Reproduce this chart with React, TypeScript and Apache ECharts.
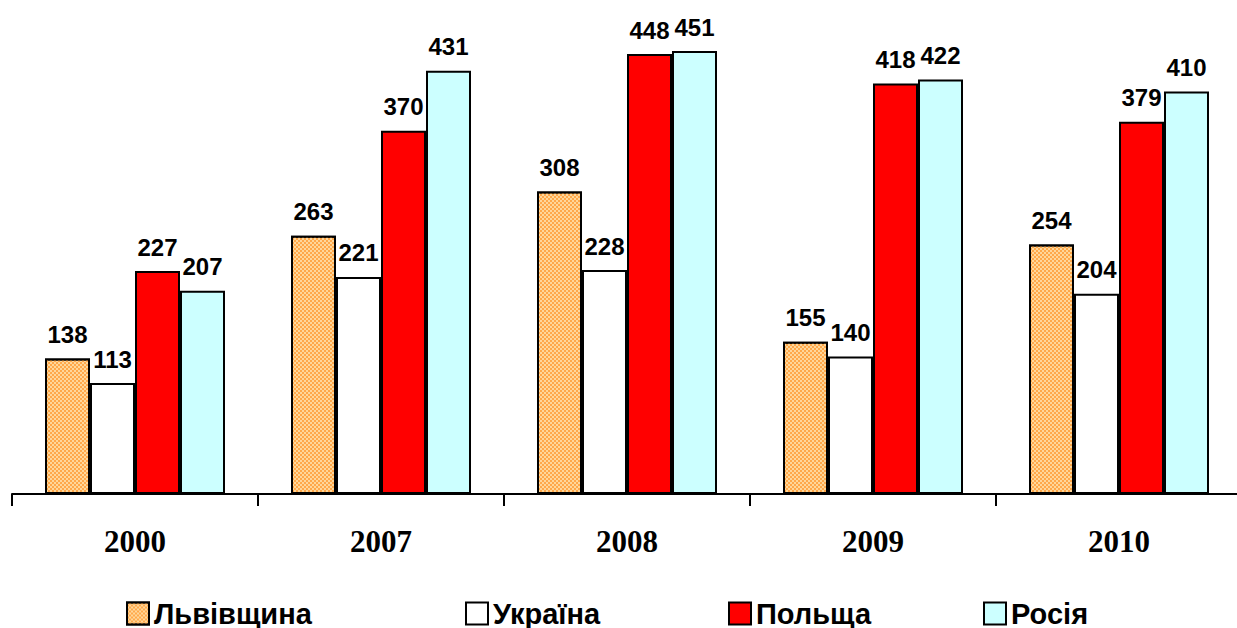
import React, { useEffect, useRef } from "react";
import * as echarts from "echarts";

const categories = ["2000", "2007", "2008", "2009", "2010"];
const seriesNames = ["Львівщина", "Україна", "Польща", "Росія"];
const lvivData = [138, 263, 308, 155, 254];
const ukraineData = [113, 221, 228, 140, 204];
const polandData = [227, 370, 448, 418, 379];
const russiaData = [207, 431, 451, 422, 410];
const legendLefts = [126, 465, 728, 983];

export default function App() {
  const ref = useRef<HTMLDivElement>(null);
  useEffect(() => {
    if (!ref.current) return;
    const chart = echarts.init(ref.current, undefined, { renderer: "svg" });
    const labelStyle = {
      show: true,
      position: "top" as const,
      distance: 12,
      fontFamily: "'Liberation Sans', Arial, sans-serif",
      fontWeight: "bold" as const,
      fontSize: 24,
      color: "#000",
    };
    const colors = ["#FFD79A", "#FFFFFF", "#FF0000", "#CCFFFF"];
    const datas = [lvivData, ukraineData, polandData, russiaData];
    const series = seriesNames.map((name, i) => ({
      type: "bar" as const,
      name,
      data: datas[i],
      barWidth: 45,
      barGap: "0%",
      itemStyle: {
        color: colors[i],
        borderColor: "#000",
        borderWidth: 2,
        ...(i === 0
          ? {
              decal: {
                symbol: "rect",
                symbolSize: 1,
                color: "#FFA84A",
                dashArrayX: [
                  [2, 2],
                  [0, 2, 2, 0],
                ],
                dashArrayY: [2, 0],
                rotation: 0,
              },
            }
          : {}),
      },
      label: labelStyle,
    }));
    const legends = seriesNames.map((name, i) => ({
      data: [name],
      left: legendLefts[i],
      top: 599,
      orient: "horizontal" as const,
      itemWidth: 22,
      itemHeight: 22,
      icon: "rect",
      selectedMode: false,
      itemStyle: { borderColor: "#000", borderWidth: 2 },
      textStyle: {
        fontFamily: "'Liberation Sans', Arial, sans-serif",
        fontWeight: "bold" as const,
        fontSize: 29,
        color: "#000",
      },
      padding: 0,
    }));
    chart.setOption({
      animation: false,
      backgroundColor: "#fff",
      aria: { enabled: false, decal: { show: true } },
      grid: { left: 12, top: 3, width: 1230, height: 491, containLabel: false },
      legend: legends,
      xAxis: {
        type: "category",
        data: categories,
        boundaryGap: true,
        axisLine: { show: true, lineStyle: { color: "#000", width: 2 } },
        axisTick: { show: true, length: 12, lineStyle: { color: "#000", width: 2 } },
        axisLabel: {
          margin: 32,
          fontFamily: "'Liberation Serif', 'Times New Roman', serif",
          fontWeight: "bold",
          fontSize: 31,
          color: "#000",
        },
      },
      yAxis: {
        type: "value",
        min: 0,
        max: 500,
        show: false,
        splitLine: { show: false },
      },
      series,
    });
    return () => chart.dispose();
  }, []);
  return (
    <div
      style={{
        position: "absolute",
        left: 0,
        top: 0,
        width: 1237,
        height: 628,
        overflow: "hidden",
        background: "#fff",
      }}
    >
      <div ref={ref} style={{ width: 1260, height: 628 }} />
    </div>
  );
}
